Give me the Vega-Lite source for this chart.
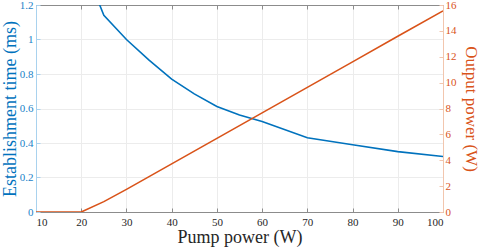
{
  "$schema": "https://vega.github.io/schema/vega-lite/v6.json",
  "width": 407,
  "height": 207,
  "autosize": "none",
  "padding": {"left": 36, "top": 5, "right": 41, "bottom": 37},
  "config": {
    "font": "Liberation Serif, Times New Roman, serif",
    "view": {"stroke": null},
    "axis": {"gridColor": "#ececec", "gridWidth": 1, "labelFont": "Liberation Serif, Times New Roman, serif", "titleFont": "Liberation Serif, Times New Roman, serif", "titleFontWeight": "normal"}
  },
  "datasets": {
    "time": [
      {"pump": 20, "time": 1.47},
      {"pump": 25, "time": 1.14},
      {"pump": 30, "time": 1.0},
      {"pump": 35, "time": 0.88},
      {"pump": 40, "time": 0.77},
      {"pump": 45, "time": 0.685},
      {"pump": 50, "time": 0.612},
      {"pump": 55, "time": 0.562},
      {"pump": 60, "time": 0.525},
      {"pump": 70, "time": 0.43},
      {"pump": 80, "time": 0.39},
      {"pump": 90, "time": 0.35},
      {"pump": 100, "time": 0.322}
    ],
    "power": [
      {"pump": 10, "power": 0},
      {"pump": 20, "power": 0},
      {"pump": 25, "power": 0.8},
      {"pump": 30, "power": 1.75},
      {"pump": 40, "power": 3.72},
      {"pump": 50, "power": 5.69},
      {"pump": 60, "power": 7.66},
      {"pump": 70, "power": 9.63},
      {"pump": 80, "power": 11.6},
      {"pump": 90, "power": 13.58},
      {"pump": 100, "power": 15.55}
    ]
  },
  "layer": [
    {
      "data": {"name": "time"},
      "mark": {"type": "line", "color": "#0072BD", "strokeWidth": 1.6, "clip": true},
      "encoding": {
        "x": {
          "field": "pump", "type": "quantitative",
          "scale": {"domain": [10, 100], "nice": false},
          "axis": {
            "orient": "bottom", "title": "Pump power (W)", "titleFontSize": 18, "titleColor": "#262626", "titlePadding": 1,
            "values": [10, 20, 30, 40, 50, 60, 70, 80, 90, 100],
            "labelFontSize": 11, "labelColor": "#262626", "labelPadding": 8,
            "domainColor": "#8c8c8c", "tickColor": "#8c8c8c", "tickSize": -4,
            "grid": true
          }
        },
        "y": {
          "field": "time", "type": "quantitative",
          "scale": {"domain": [0, 1.2], "nice": false},
          "axis": {
            "orient": "left", "title": "Establishment time (ms)", "titleFontSize": 18, "titleColor": "#0072BD", "titlePadding": 0,
            "values": [0, 0.2, 0.4, 0.6, 0.8, 1, 1.2],
            "labelExpr": "format(datum.value, '~g')",
            "labelFontSize": 11, "labelColor": "#1a82c8", "labelPadding": 7,
            "domainColor": "#a9d2ee", "tickColor": "#a9d2ee", "tickSize": -4,
            "grid": true
          }
        }
      }
    },
    {
      "data": {"name": "power"},
      "mark": {"type": "line", "color": "#D95319", "strokeWidth": 1.6, "clip": true},
      "encoding": {
        "x": {
          "field": "pump", "type": "quantitative",
          "scale": {"domain": [10, 100], "nice": false},
          "axis": {
            "orient": "top", "title": null, "labels": false,
            "values": [10, 20, 30, 40, 50, 60, 70, 80, 90, 100],
            "domainColor": "#8c8c8c", "tickColor": "#8c8c8c", "tickSize": -4,
            "grid": false
          }
        },
        "y": {
          "field": "power", "type": "quantitative",
          "scale": {"domain": [0, 16], "nice": false},
          "axis": {
            "orient": "right", "title": "Output power (W)", "titleFontSize": 17, "titleColor": "#D95319", "titlePadding": 5,
            "values": [0, 2, 4, 6, 8, 10, 12, 14, 16],
            "labelFontSize": 11, "labelColor": "#D95319", "labelPadding": 6,
            "domainColor": "#f2c6ae", "tickColor": "#f2c6ae", "tickSize": -4,
            "grid": false
          }
        }
      }
    }
  ],
  "resolve": {"scale": {"y": "independent"}, "axis": {"x": "independent"}}
}
